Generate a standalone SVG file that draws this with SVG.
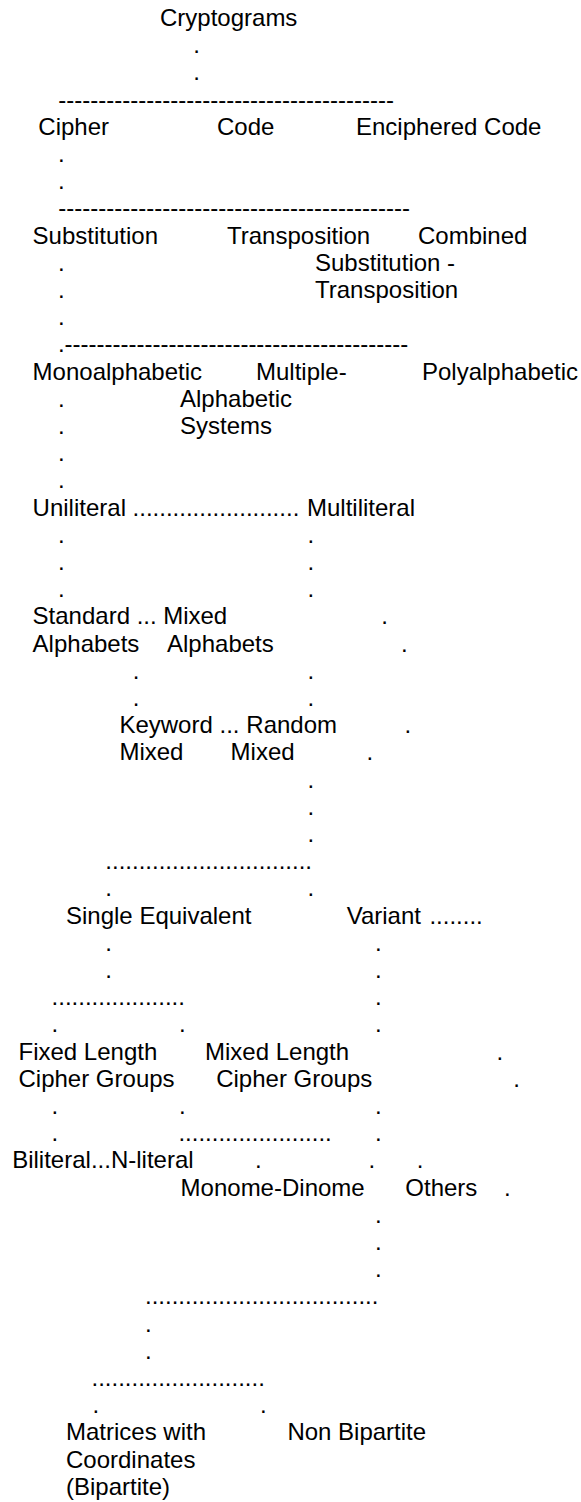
<svg xmlns="http://www.w3.org/2000/svg" width="581" height="1502" viewBox="0 0 581 1502">
  <style>
    text { font-family: "Liberation Sans", Arial, sans-serif; font-size: 24px; fill: #000; white-space: pre; }
  </style>
  <rect width="581" height="1502" fill="#fff"/>

  <!-- classification nodes (rows are 27.2px apart) -->
  <g id="cryptograms"><text x="160" y="26">Cryptograms</text></g>
  <g id="cipher"><text x="38.3" y="134.8">Cipher</text></g>
  <g id="code"><text x="217" y="134.8">Code</text></g>
  <g id="enciphered-code"><text x="356" y="134.8">Enciphered Code</text></g>
  <g id="substitution"><text x="32.6" y="243.6">Substitution</text></g>
  <g id="transposition"><text x="227" y="243.6">Transposition</text></g>
  <g id="combined">
    <text x="418" y="243.6">Combined</text>
    <text x="315" y="270.8">Substitution -</text>
    <text x="315" y="298">Transposition</text>
  </g>
  <g id="monoalphabetic"><text x="32.6" y="379.6">Monoalphabetic</text></g>
  <g id="multiple-alphabetic">
    <text x="256" y="379.6">Multiple-</text>
    <text x="180" y="406.8">Alphabetic</text>
    <text x="180" y="434">Systems</text>
  </g>
  <g id="polyalphabetic"><text x="422" y="379.6">Polyalphabetic</text></g>
  <g id="uniliteral"><text x="32.6" y="515.6">Uniliteral</text></g>
  <g id="multiliteral"><text x="307" y="515.6">Multiliteral</text></g>
  <g id="standard-alphabets">
    <text x="32.6" y="624.4">Standard</text>
    <text x="32.6" y="651.6">Alphabets</text>
  </g>
  <g id="mixed-alphabets">
    <text x="163.2" y="624.4">Mixed</text>
    <text x="167" y="651.6">Alphabets</text>
  </g>
  <g id="keyword-mixed">
    <text x="119.4" y="733.2">Keyword</text>
    <text x="119.4" y="760.4">Mixed</text>
  </g>
  <g id="random-mixed">
    <text x="246.3" y="733.2">Random</text>
    <text x="230.6" y="760.4">Mixed</text>
  </g>
  <g id="single-equivalent"><text x="66" y="923.6">Single Equivalent</text></g>
  <g id="variant"><text x="346.7" y="923.6">Variant</text></g>
  <g id="fixed-length">
    <text x="18.5" y="1059.6">Fixed Length</text>
    <text x="18.5" y="1086.8">Cipher Groups</text>
  </g>
  <g id="mixed-length">
    <text x="205" y="1059.6">Mixed Length</text>
    <text x="216.2" y="1086.8">Cipher Groups</text>
  </g>
  <g id="biliteral"><text x="12.2" y="1168.4">Biliteral</text></g>
  <g id="n-literal"><text x="110.9" y="1168.4">N-literal</text></g>
  <g id="monome-dinome"><text x="180.6" y="1195.6">Monome-Dinome</text></g>
  <g id="others"><text x="405.3" y="1195.6">Others</text></g>
  <g id="matrices-bipartite">
    <text x="66" y="1440.4">Matrices with</text>
    <text x="66" y="1467.6">Coordinates</text>
    <text x="66" y="1494.8">(Bipartite)</text>
  </g>
  <g id="non-bipartite"><text x="287.4" y="1440.4">Non Bipartite</text></g>

  <!-- dotted and dashed connector runs -->
  <g id="connectors">
    <text x="193.2" y="53.2">.</text>
    <text x="193.2" y="80.4">.</text>
    <text x="58.3" y="107.6">------------------------------------------</text>
    <text x="57.9" y="162">.</text>
    <text x="57.9" y="189.2">.</text>
    <text x="58.3" y="216.4">--------------------------------------------</text>
    <text x="57.9" y="270.8">.</text>
    <text x="57.9" y="298">.</text>
    <text x="57.9" y="325.2">.</text>
    <text x="57.9" y="352.4">.-------------------------------------------</text>
    <text x="57.9" y="406.8">.</text>
    <text x="57.9" y="434">.</text>
    <text x="57.9" y="461.2">.</text>
    <text x="57.9" y="488.4">.</text>
    <text x="132.6" y="515.6">.........................</text>
    <text x="57.9" y="542.8">.</text><text x="307.4" y="542.8">.</text>
    <text x="57.9" y="570">.</text><text x="307.4" y="570">.</text>
    <text x="57.9" y="597.2">.</text><text x="307.4" y="597.2">.</text>
    <text x="136.7" y="624.4">...</text><text x="381.2" y="624.4">.</text>
    <text x="400.9" y="651.6">.</text>
    <text x="132.7" y="678.8">.</text><text x="307.4" y="678.8">.</text>
    <text x="132.7" y="706">.</text><text x="307.4" y="706">.</text>
    <text x="219.5" y="733.2">...</text><text x="404.6" y="733.2">.</text>
    <text x="366.4" y="760.4">.</text>
    <text x="307.4" y="787.6">.</text>
    <text x="307.4" y="814.8">.</text>
    <text x="307.4" y="842">.</text>
    <text x="105.3" y="869.2">...............................</text>
    <text x="105.3" y="896.4">.</text><text x="307.4" y="896.4">.</text>
    <text x="429.4" y="923.6">........</text>
    <text x="105.3" y="950.8">.</text><text x="374.9" y="950.8">.</text>
    <text x="105.3" y="978">.</text><text x="374.9" y="978">.</text>
    <text x="51.6" y="1005.2">....................</text><text x="374.9" y="1005.2">.</text>
    <text x="51.6" y="1032.4">.</text><text x="179.1" y="1032.4">.</text><text x="374.9" y="1032.4">.</text>
    <text x="496.5" y="1059.6">.</text>
    <text x="513.2" y="1086.8">.</text>
    <text x="51.6" y="1114">.</text><text x="179.1" y="1114">.</text><text x="374.9" y="1114">.</text>
    <text x="51.6" y="1141.2">.</text><text x="178.4" y="1141.2">.......................</text><text x="374.9" y="1141.2">.</text>
    <text x="90.9" y="1168.4">...</text><text x="255.1" y="1168.4">.</text><text x="368.6" y="1168.4">.</text><text x="416.8" y="1168.4">.</text>
    <text x="503.9" y="1195.6">.</text>
    <text x="374.9" y="1222.8">.</text>
    <text x="374.9" y="1250">.</text>
    <text x="374.9" y="1277.2">.</text>
    <text x="145" y="1304.4">...................................</text>
    <text x="145" y="1331.6">.</text>
    <text x="145" y="1358.8">.</text>
    <text x="91.5" y="1386">..........................</text>
    <text x="92.4" y="1413.2">.</text><text x="260" y="1413.2">.</text>
  </g>
</svg>
